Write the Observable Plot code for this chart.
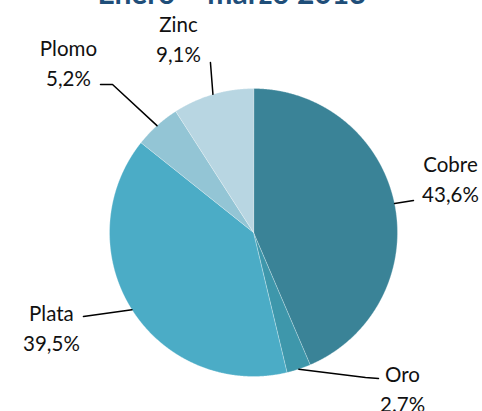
<!DOCTYPE html>
<html><head><meta charset="utf-8">
<script src="https://cdn.jsdelivr.net/npm/d3@7"></script>
<script src="https://cdn.jsdelivr.net/npm/@observablehq/plot@0.6"></script>
<style>
body{margin:0;background:#fff;}
#wrap{position:relative;width:482px;height:411px;overflow:hidden;}
#title{position:absolute;left:0;width:464px;text-align:center;top:-23px;font:bold 30px Lato,sans-serif;color:#1F4E79;line-height:30px;white-space:nowrap;z-index:2}
#chart{position:absolute;left:0;top:0}
</style></head><body>
<div id="wrap"><div id="title">Enero – marzo 2013</div><div id="chart"></div></div>
<script>
// ---- data ----
const categories = ["Cobre", "Oro", "Plata", "Plomo", "Zinc"];
const values = [43.6, 2.7, 39.5, 5.2, 9.1];
const valueLabels = ["43,6%", "2.7%", "39,5%", "5,2%", "9,1%"];

// ---- style / layout (not data) ----
const colors = ["#3A8397", "#3E97AB", "#4BACC6", "#93C5D5", "#B8D6E2"];
const W = 482, H = 411, CX = 253, CY = 232, R = 144;
// label block centres, in pie-radius units relative to the centre
const labelPos = [[1.368, 0.382], [1.035, -1.076], [-1.403, -0.653], [-1.285, 1.19], [-0.521, 1.354]];
// leader-line bend/end points after leaving the slice edge
const leaderPts = [
  [[1.111, 0.222]],
  [[0.778, -1.007], [0.868, -1.014]],
  [[-1.181, -0.583]],
  [[-0.979, 1.028], [-1.0625, 1.028]],
  [[-0.299, 1.181]]
];

const pie = d3.pie().sort(null).value(d => d)(values);
const slicePts = [];
pie.forEach((p, i) => {
  slicePts.push({cat: categories[i], x: 0, y: 0});
  const n = Math.max(4, Math.ceil((p.endAngle - p.startAngle) / 0.005));
  for (let k = 0; k <= n; k++) {
    const a = p.startAngle + (p.endAngle - p.startAngle) * k / n;
    slicePts.push({cat: categories[i], x: Math.sin(a), y: Math.cos(a)});
  }
});
const leaders = [];
pie.forEach((p, i) => {
  const a = (p.startAngle + p.endAngle) / 2;
  leaders.push({cat: categories[i], x: Math.sin(a), y: Math.cos(a)});
  leaderPts[i].forEach(([x, y]) => leaders.push({cat: categories[i], x, y}));
});
const labels = categories.map((c, i) => ({text: c + "\n" + valueLabels[i], x: labelPos[i][0], y: labelPos[i][1]}));

const chart = Plot.plot({
  width: W, height: H, margin: 0,
  x: {domain: [-CX / R, (W - CX) / R], range: [0, W], axis: null},
  y: {domain: [-(H - CY) / R, CY / R], range: [H, 0], axis: null},
  color: {domain: categories, range: colors},
  style: {background: "white"},
  marks: [
    Plot.line(slicePts, {x: "x", y: "y", z: "cat", fill: "cat", stroke: "white", strokeWidth: 0.6, strokeOpacity: 0.5, curve: "linear-closed"}),
    Plot.line(leaders, {x: "x", y: "y", z: "cat", stroke: "black", strokeWidth: 1.5}),
    Plot.text(labels, {x: "x", y: "y", text: "text", fontSize: 20.5, fontFamily: "Lato, sans-serif", fill: "#111", lineHeight: 1.47, textAnchor: "middle"})
  ]
});
document.getElementById("chart").appendChild(chart);
</script>
</body></html>
